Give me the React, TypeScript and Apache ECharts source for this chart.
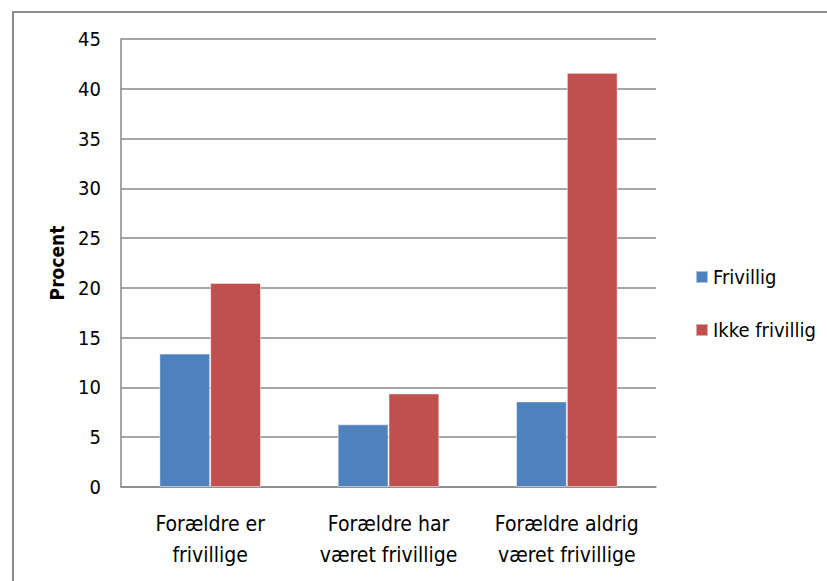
import React, { useEffect, useRef } from "react";
import * as echarts from "echarts";

const categories = ["Forældre er\nfrivillige", "Forældre har\nværet frivillige", "Forældre aldrig\nværet frivillige"];
const seriesNames = ["Frivillig", "Ikke frivillig"];
const frivillig = [13.4, 6.3, 8.6];
const ikkeFrivillig = [20.5, 9.4, 41.6];
const colors = ["#4F81BD", "#C0504D"];

const FONT = "'Liberation Sans Narrow', 'DejaVu Sans Condensed', 'Noto Sans', sans-serif";

export default function App() {
  const ref = useRef<HTMLDivElement>(null);
  useEffect(() => {
    const chart = echarts.init(ref.current!, null, { renderer: "svg" });
    chart.setOption({
      animation: false,
      backgroundColor: "#fff",
      textStyle: { fontFamily: FONT },
      graphic: [
        {
          type: "rect",
          shape: { x: 13, y: 12, width: 830, height: 600 },
          style: { fill: "none", stroke: "#8c8c8c", lineWidth: 2 },
          silent: true,
        },
      ],
      grid: { left: 121, right: 171, top: 39, bottom: 94 },
      legend: {
        orient: "vertical",
        left: 690,
        top: 262,
        itemWidth: 12,
        itemHeight: 12,
        itemGap: 33,
        icon: "rect",
        textStyle: { fontSize: 20, color: "#000", fontFamily: FONT },
        data: seriesNames,
      },
      xAxis: {
        type: "category",
        data: categories,
        axisLine: { lineStyle: { color: "#888", width: 1.5 } },
        axisTick: { show: false },
        axisLabel: { fontSize: 21, color: "#000", margin: 21, lineHeight: 31, fontFamily: FONT, interval: 0 },
      },
      yAxis: {
        type: "value",
        min: 0,
        max: 45,
        interval: 5,
        name: "Procent",
        nameLocation: "middle",
        nameGap: 55,
        nameTextStyle: { fontSize: 19, fontWeight: "bold", color: "#000", fontFamily: FONT },
        axisLine: { show: true, lineStyle: { color: "#888", width: 1.5 } },
        axisTick: { show: false },
        splitLine: { lineStyle: { color: "#888", width: 1.5 } },
        axisLabel: { fontSize: 20, color: "#000", margin: 20, fontFamily: FONT },
      },
      series: [
        {
          name: seriesNames[0],
          type: "bar",
          data: frivillig,
          barGap: "0%",
          barCategoryGap: "43%",
          itemStyle: { color: colors[0], borderColor: "rgba(255,255,255,0.5)", borderWidth: 1 },
        },
        {
          name: seriesNames[1],
          type: "bar",
          data: ikkeFrivillig,
          barGap: "0%",
          barCategoryGap: "43%",
          itemStyle: { color: colors[1], borderColor: "rgba(255,255,255,0.5)", borderWidth: 1 },
        },
      ],
    });
    return () => chart.dispose();
  }, []);
  return <div ref={ref} style={{ position: "fixed", left: 0, top: 0, width: 827, height: 581 }} />;
}
